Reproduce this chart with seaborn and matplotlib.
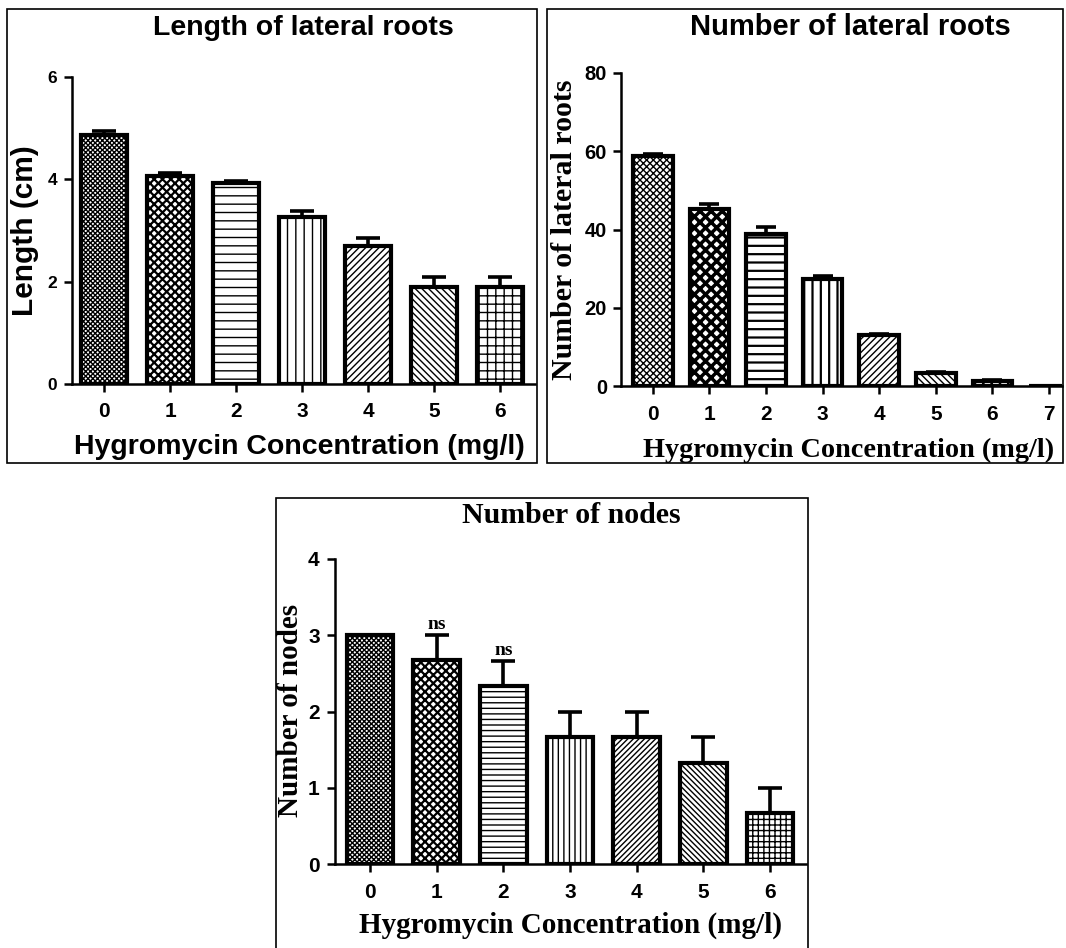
import numpy as np
import matplotlib
matplotlib.use("Agg")
import matplotlib.pyplot as plt
from matplotlib.patches import Rectangle
import pandas as pd
import seaborn as sns

# data
len_conc = ["0", "1", "2", "3", "4", "5", "6"]
len_mean = [4.87, 4.07, 3.92, 3.27, 2.70, 1.90, 1.90]
len_err = [0.08, 0.06, 0.04, 0.12, 0.15, 0.20, 0.20]

num_conc = ["0", "1", "2", "3", "4", "5", "6", "7"]
num_mean = [58.8, 45.2, 38.9, 27.4, 13.0, 3.4, 1.3, 0.0]
num_err = [0.6, 1.4, 1.7, 0.6, 0.2, 0.2, 0.2, 0.0]

node_conc = ["0", "1", "2", "3", "4", "5", "6"]
node_mean = [3.0, 2.67, 2.33, 1.67, 1.67, 1.33, 0.67]
node_err = [0.0, 0.33, 0.33, 0.33, 0.33, 0.33, 0.33]
node_marks = ["", "ns", "ns", "", "", "", ""]

W, H = 1066, 948

sns.set_style("ticks")
plt.rcParams["font.family"] = ["Liberation Sans", "DejaVu Sans"]
plt.rcParams["font.weight"] = "bold"
plt.rcParams["text.color"] = "black"
plt.rcParams["axes.labelcolor"] = "black"
plt.rcParams["xtick.color"] = "black"
plt.rcParams["ytick.color"] = "black"
plt.rcParams["axes.edgecolor"] = "black"

SANS = "Liberation Sans"
SERIF = "Liberation Serif"

fig = plt.figure(figsize=(W / 100, H / 100), dpi=100)


def px_axes(left, right, top, bottom):
    # pixel box -> figure fraction
    return [left / W, 1 - bottom / H, (right - left) / W, (bottom - top) / H]


def panel_box(x0, y0, x1, y1):
    r = Rectangle((x0 / W, 1 - y1 / H), (x1 - x0) / W, (y1 - y0) / H,
                  transform=fig.transFigure, fill=False, edgecolor="black",
                  linewidth=1.2, zorder=0)
    fig.add_artist(r)


def draw_bars(ax, cats, means, errs, hatches, hatch_lw, capsize):
    df = pd.DataFrame({"conc": cats, "value": means})
    sns.barplot(data=df, x="conc", y="value", order=cats, color="white",
                edgecolor="black", linewidth=3, width=0.7, errorbar=None,
                saturation=1, ax=ax)
    for bar, h, lw in zip(ax.patches, hatches, hatch_lw):
        bar.set_facecolor("white")
        bar.set_hatch(h)
        if hasattr(bar, "set_hatch_linewidth"):
            bar.set_hatch_linewidth(lw)
        bar.set_zorder(3)
    x = np.arange(len(cats))
    ax.errorbar(x, means, yerr=[np.zeros(len(errs)), errs], fmt="none",
                ecolor="black", elinewidth=2.6, capsize=capsize, capthick=2.6,
                zorder=2)


def style_axes(ax, xsize, ysize, xpad, ypad):
    sns.despine(ax=ax)
    ax.spines["left"].set_linewidth(1.8)
    ax.spines["bottom"].set_linewidth(1.8)
    ax.tick_params(axis="both", direction="out", length=6, width=1.8,
                   color="black", labelfontfamily=SANS)
    ax.tick_params(axis="x", pad=xpad, labelsize=xsize)
    ax.tick_params(axis="y", pad=ypad, labelsize=ysize)
    for t in ax.get_xticklabels() + ax.get_yticklabels():
        t.set_fontweight("bold")


# ---- panel 1: length ----
ax1 = fig.add_axes(px_axes(72, 535, 77, 384))
draw_bars(ax1, len_conc, len_mean, len_err,
          ["xxxxxxx", "xxxx", "--", "||", "/////", "\\\\\\\\\\", "++"],
          [1.0, 1.6, 1.0, 1.0, 1.0, 1.0, 1.0], 8.5)
ax1.set_xlim(-0.485, 6.53)
ax1.set_ylim(0, 6)
ax1.set_yticks([0, 2, 4, 6])
style_axes(ax1, 15, 12.5, 7, 4.5)
ax1.set_title("Length of lateral roots", fontsize=20.5, fontweight="bold",
              family=SANS, x=0.499, y=1.16, va="center", pad=0)
ax1.set_xlabel("Hygromycin Concentration (mg/l)", fontsize=20.5,
               fontweight="bold", family=SANS, va="center")
ax1.xaxis.set_label_coords(0.492, -0.205)
ax1.set_ylabel("Length (cm)", fontsize=21.5, fontweight="bold", family=SANS,
               va="center")
ax1.yaxis.set_label_coords(-0.1015, 0.5)

# ---- panel 2: number of lateral roots ----
ax2 = fig.add_axes(px_axes(621, 1062, 73, 386))
draw_bars(ax2, num_conc, num_mean, num_err,
          ["xxxxx", "xxx", "--", "||", "/////", "\\\\\\\\\\", "xxxx", ""],
          [1.0, 2.5, 1.6, 1.6, 1.0, 1.0, 1.0, 1.0], 7)
ax2.set_xlim(-0.564, 7.23)
ax2.set_ylim(0, 80)
ax2.set_yticks([0, 20, 40, 60, 80])
style_axes(ax2, 15, 14.5, 7.5, 4)
ax2.set_title("Number of lateral roots", fontsize=21, fontweight="bold",
              family=SANS, x=0.519, y=1.147, va="center", pad=0)
ax2.set_xlabel("Hygromycin Concentration (mg/l)", fontsize=20.3,
               fontweight="bold", family=SERIF, va="center")
ax2.xaxis.set_label_coords(0.517, -0.207)
ax2.set_ylabel("Number of lateral roots", fontsize=21.5, fontweight="bold",
               family=SERIF, va="center")
ax2.yaxis.set_label_coords(-0.129, 0.498)

# ---- panel 3: number of nodes ----
ax3 = fig.add_axes(px_axes(335, 806, 559, 864))
draw_bars(ax3, node_conc, node_mean, node_err,
          ["xxxxxxx", "xxxx", "---", "|||", "//////", "\\\\\\\\\\\\", "+++"],
          [1.0, 1.6, 1.0, 1.0, 1.0, 1.0, 1.0], 8.5)
for i, mark in enumerate(node_marks):
    if mark:
        ax3.text(i, node_mean[i] + node_err[i] + 0.03, mark, ha="center",
                 va="bottom", fontsize=14, fontweight="bold", family=SERIF)
ax3.set_xlim(-0.525, 6.54)
ax3.set_ylim(0, 4)
ax3.set_yticks([0, 1, 2, 3, 4])
style_axes(ax3, 15, 15, 7.5, 5)
ax3.set_title("Number of nodes", fontsize=21.5, fontweight="bold",
              family=SERIF, x=0.501, y=1.144, va="center", pad=0)
ax3.set_xlabel("Hygromycin Concentration (mg/l)", fontsize=21,
               fontweight="bold", family=SERIF, va="center")
ax3.xaxis.set_label_coords(0.501, -0.2)
ax3.set_ylabel("Number of nodes", fontsize=21, fontweight="bold",
               family=SERIF, va="center")
ax3.yaxis.set_label_coords(-0.0955, 0.502)

# panel frames
panel_box(7, 9, 537, 463)
panel_box(547, 9, 1063, 463)
panel_box(276, 498, 808, 960)

fig.savefig("out.png", dpi=100)
